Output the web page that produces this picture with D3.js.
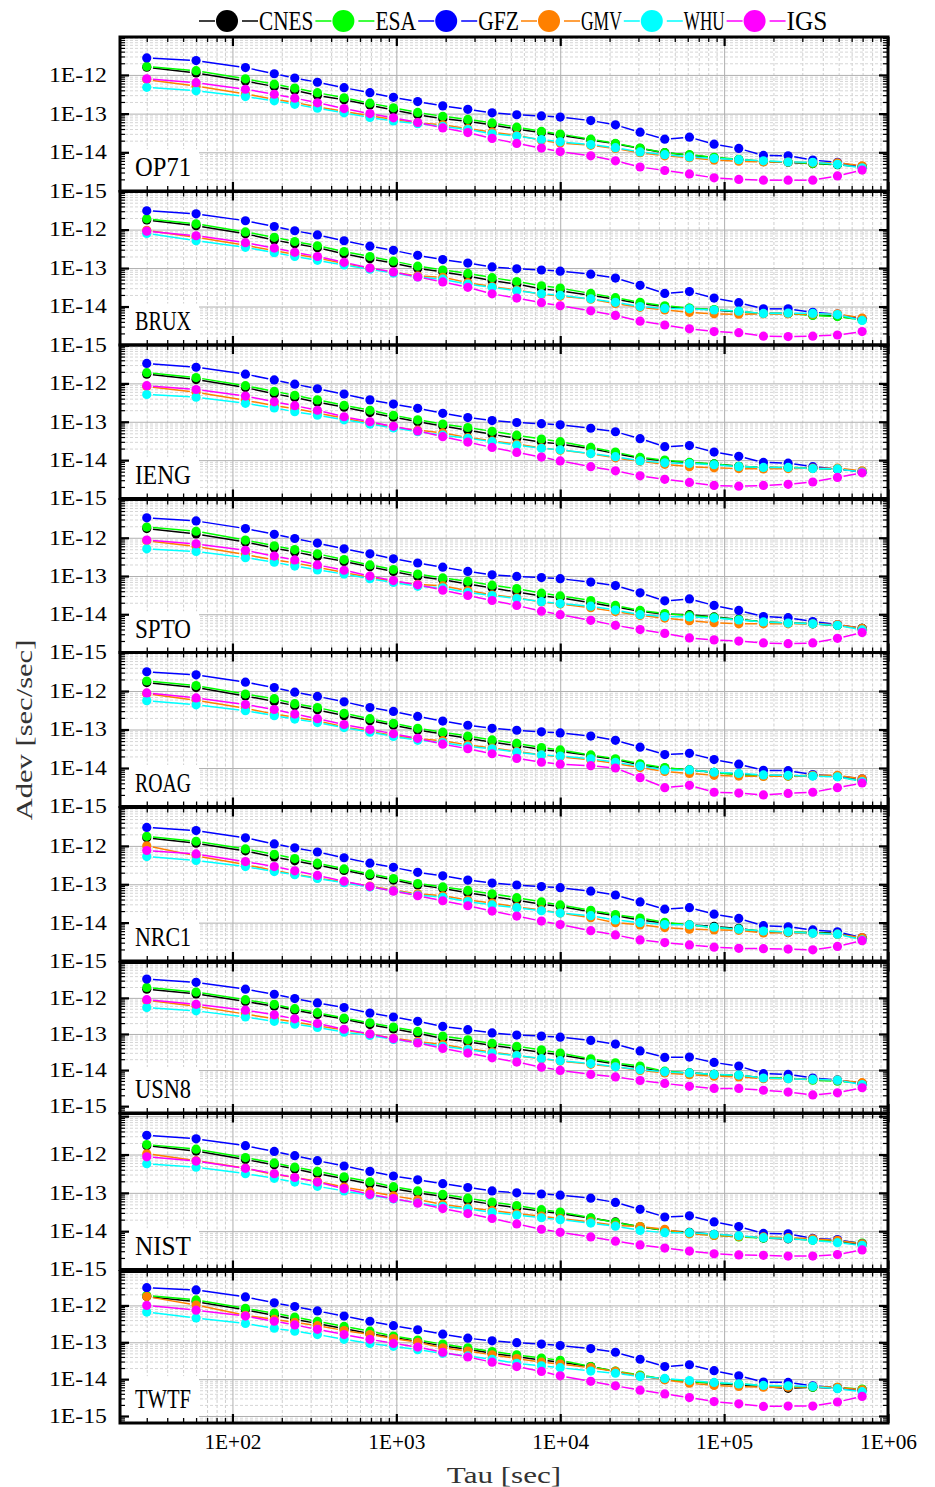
<!DOCTYPE html>
<html><head><meta charset="utf-8">
<script src="https://cdn.jsdelivr.net/npm/d3@7"></script>
<style>html,body{margin:0;padding:0;background:#fff}svg{display:block}</style>
</head><body>
<svg id="chart" width="935" height="1487"></svg>
<script>
// ---------------- data ----------------
const tauSeconds = [30,60,120,180,240,330,480,690,960,1350,1920,2730,3840,5430,7680,10000,15360,21720,30720,43440,61440,86880,122880,173760,245760,347520,491520,695100];
const stations = ["OP71","BRUX","IENG","SPTO","ROAG","NRC1","USN8","NIST","TWTF"];
const seriesNames = ["CNES","ESA","GFZ","GMV","WHU","IGS"];
const seriesColors = ["#000000","#00ff00","#0000ff","#ff8000","#00ffff","#ff00ff"];
const xTickValues = [1e2,1e3,1e4,1e5,1e6];
const yTickValues = [1e-15,1e-14,1e-13,1e-12];

// log10(Adev) per station (rows follow `stations`), one value per tau
const log10AdevCNES = [
[-11.80,-11.95,-12.16,-12.30,-12.40,-12.53,-12.64,-12.78,-12.91,-13.03,-13.13,-13.20,-13.29,-13.40,-13.49,-13.56,-13.68,-13.78,-13.90,-14.01,-14.07,-14.14,-14.19,-14.24,-14.26,-14.29,-14.32,-14.37],
[-11.75,-11.90,-12.11,-12.27,-12.37,-12.47,-12.63,-12.76,-12.87,-13.01,-13.10,-13.21,-13.33,-13.42,-13.54,-13.59,-13.71,-13.81,-13.92,-14.00,-14.05,-14.09,-14.14,-14.18,-14.18,-14.22,-14.25,-14.33],
[-11.76,-11.90,-12.11,-12.27,-12.37,-12.49,-12.62,-12.76,-12.88,-13.00,-13.11,-13.22,-13.33,-13.43,-13.53,-13.58,-13.70,-13.83,-13.95,-14.02,-14.07,-14.10,-14.16,-14.19,-14.20,-14.21,-14.23,-14.30],
[-11.76,-11.90,-12.11,-12.27,-12.37,-12.49,-12.62,-12.76,-12.88,-13.01,-13.10,-13.21,-13.31,-13.42,-13.52,-13.57,-13.70,-13.81,-13.92,-14.00,-14.01,-14.07,-14.13,-14.20,-14.23,-14.25,-14.29,-14.37],
[-11.78,-11.91,-12.13,-12.27,-12.38,-12.49,-12.64,-12.77,-12.89,-13.01,-13.12,-13.23,-13.33,-13.42,-13.52,-13.57,-13.68,-13.78,-13.92,-14.00,-14.05,-14.11,-14.16,-14.19,-14.20,-14.20,-14.22,-14.33],
[-11.79,-11.93,-12.13,-12.29,-12.39,-12.50,-12.64,-12.77,-12.89,-13.02,-13.11,-13.22,-13.32,-13.42,-13.52,-13.58,-13.72,-13.82,-13.93,-14.01,-14.06,-14.10,-14.15,-14.24,-14.26,-14.26,-14.27,-14.41],
[-11.76,-11.89,-12.10,-12.23,-12.34,-12.46,-12.59,-12.74,-12.86,-12.98,-13.13,-13.22,-13.32,-13.41,-13.51,-13.58,-13.72,-13.83,-13.94,-14.05,-14.08,-14.12,-14.15,-14.22,-14.23,-14.26,-14.28,-14.37],
[-11.77,-11.91,-12.13,-12.27,-12.38,-12.50,-12.63,-12.77,-12.89,-13.00,-13.09,-13.20,-13.30,-13.39,-13.48,-13.54,-13.66,-13.76,-13.89,-13.98,-14.03,-14.08,-14.13,-14.18,-14.20,-14.22,-14.26,-14.35],
[-11.76,-11.90,-12.12,-12.27,-12.38,-12.49,-12.63,-12.77,-12.87,-12.98,-13.10,-13.19,-13.30,-13.39,-13.48,-13.54,-13.66,-13.79,-13.91,-14.00,-14.07,-14.11,-14.16,-14.20,-14.25,-14.22,-14.25,-14.29]
];
const log10AdevESA = [
[-11.78,-11.89,-12.10,-12.24,-12.34,-12.46,-12.59,-12.73,-12.85,-12.97,-13.07,-13.15,-13.24,-13.35,-13.46,-13.53,-13.66,-13.77,-13.89,-14.01,-14.06,-14.13,-14.18,-14.23,-14.25,-14.29,-14.31,-14.38],
[-11.72,-11.85,-12.06,-12.20,-12.31,-12.42,-12.57,-12.70,-12.82,-12.95,-13.05,-13.14,-13.25,-13.35,-13.46,-13.52,-13.66,-13.77,-13.89,-13.98,-14.04,-14.08,-14.13,-14.18,-14.18,-14.23,-14.26,-14.35],
[-11.72,-11.85,-12.06,-12.21,-12.31,-12.43,-12.57,-12.70,-12.83,-12.95,-13.06,-13.15,-13.25,-13.35,-13.45,-13.52,-13.67,-13.79,-13.93,-14.00,-14.06,-14.10,-14.16,-14.19,-14.19,-14.21,-14.23,-14.30],
[-11.72,-11.83,-12.06,-12.21,-12.31,-12.42,-12.57,-12.71,-12.83,-12.95,-13.05,-13.14,-13.24,-13.33,-13.45,-13.52,-13.64,-13.77,-13.90,-13.98,-14.03,-14.08,-14.14,-14.20,-14.23,-14.25,-14.29,-14.37],
[-11.74,-11.86,-12.08,-12.20,-12.33,-12.43,-12.58,-12.72,-12.84,-12.97,-13.07,-13.17,-13.27,-13.36,-13.47,-13.53,-13.66,-13.76,-13.89,-13.99,-14.05,-14.11,-14.18,-14.21,-14.21,-14.19,-14.22,-14.33],
[-11.75,-11.88,-12.08,-12.22,-12.33,-12.45,-12.60,-12.73,-12.85,-12.98,-13.07,-13.16,-13.25,-13.35,-13.46,-13.54,-13.68,-13.79,-13.88,-13.99,-14.06,-14.13,-14.17,-14.22,-14.24,-14.26,-14.30,-14.42],
[-11.71,-11.84,-12.05,-12.18,-12.30,-12.41,-12.56,-12.69,-12.81,-12.93,-13.06,-13.16,-13.26,-13.34,-13.44,-13.53,-13.69,-13.80,-13.89,-14.03,-14.08,-14.12,-14.15,-14.22,-14.22,-14.28,-14.31,-14.37],
[-11.74,-11.86,-12.08,-12.22,-12.33,-12.44,-12.58,-12.71,-12.84,-12.95,-13.04,-13.14,-13.24,-13.33,-13.44,-13.50,-13.65,-13.77,-13.88,-13.98,-14.05,-14.11,-14.15,-14.18,-14.18,-14.24,-14.26,-14.31],
[-11.73,-11.85,-12.08,-12.21,-12.32,-12.43,-12.57,-12.70,-12.83,-12.94,-13.05,-13.15,-13.25,-13.34,-13.43,-13.49,-13.66,-13.78,-13.89,-14.00,-14.07,-14.11,-14.13,-14.17,-14.20,-14.22,-14.22,-14.27]
];
const log10AdevGFZ = [
[-11.56,-11.63,-11.81,-11.97,-12.08,-12.19,-12.33,-12.46,-12.58,-12.69,-12.80,-12.89,-12.98,-13.03,-13.06,-13.09,-13.18,-13.29,-13.48,-13.66,-13.61,-13.79,-13.90,-14.08,-14.09,-14.20,-14.26,-14.38],
[-11.51,-11.59,-11.77,-11.92,-12.03,-12.14,-12.29,-12.43,-12.54,-12.67,-12.78,-12.87,-12.97,-13.02,-13.05,-13.08,-13.16,-13.26,-13.45,-13.66,-13.61,-13.78,-13.90,-14.06,-14.06,-14.15,-14.20,-14.32],
[-11.48,-11.58,-11.76,-11.91,-12.02,-12.14,-12.28,-12.43,-12.54,-12.65,-12.78,-12.89,-12.97,-13.02,-13.05,-13.08,-13.17,-13.26,-13.44,-13.65,-13.62,-13.79,-13.90,-14.06,-14.08,-14.17,-14.23,-14.30],
[-11.48,-11.56,-11.76,-11.91,-12.02,-12.14,-12.29,-12.42,-12.55,-12.66,-12.77,-12.88,-12.97,-13.01,-13.04,-13.07,-13.16,-13.25,-13.44,-13.65,-13.60,-13.77,-13.90,-14.06,-14.09,-14.19,-14.27,-14.37],
[-11.50,-11.58,-11.77,-11.91,-12.03,-12.14,-12.28,-12.43,-12.53,-12.66,-12.78,-12.89,-12.97,-13.02,-13.06,-13.09,-13.17,-13.28,-13.46,-13.65,-13.62,-13.78,-13.90,-14.06,-14.07,-14.17,-14.21,-14.28],
[-11.52,-11.60,-11.79,-11.95,-12.05,-12.16,-12.31,-12.45,-12.56,-12.69,-12.78,-12.89,-12.97,-13.02,-13.06,-13.09,-13.18,-13.28,-13.46,-13.65,-13.61,-13.78,-13.89,-14.08,-14.11,-14.19,-14.24,-14.39],
[-11.48,-11.57,-11.76,-11.90,-12.02,-12.14,-12.27,-12.42,-12.53,-12.65,-12.79,-12.88,-12.97,-13.03,-13.06,-13.09,-13.18,-13.28,-13.47,-13.65,-13.64,-13.79,-13.89,-14.10,-14.12,-14.22,-14.28,-14.37],
[-11.50,-11.59,-11.77,-11.92,-12.03,-12.16,-12.30,-12.44,-12.56,-12.66,-12.76,-12.86,-12.95,-13.00,-13.03,-13.06,-13.14,-13.25,-13.43,-13.63,-13.60,-13.76,-13.88,-14.06,-14.07,-14.19,-14.22,-14.33],
[-11.52,-11.58,-11.77,-11.93,-12.03,-12.15,-12.29,-12.43,-12.55,-12.66,-12.78,-12.89,-12.96,-13.01,-13.05,-13.09,-13.17,-13.27,-13.46,-13.66,-13.61,-13.77,-13.91,-14.08,-14.09,-14.18,-14.23,-14.31]
];
const log10AdevGMV = [
[-12.12,-12.29,-12.49,-12.63,-12.71,-12.83,-12.94,-13.06,-13.15,-13.24,-13.29,-13.39,-13.48,-13.56,-13.69,-13.76,-13.82,-13.90,-14.01,-14.09,-14.14,-14.20,-14.23,-14.25,-14.25,-14.27,-14.27,-14.35],
[-12.02,-12.20,-12.41,-12.55,-12.64,-12.74,-12.88,-13.01,-13.11,-13.20,-13.24,-13.38,-13.48,-13.57,-13.68,-13.73,-13.81,-13.92,-14.02,-14.09,-14.15,-14.19,-14.20,-14.19,-14.19,-14.20,-14.19,-14.30],
[-12.08,-12.23,-12.44,-12.58,-12.66,-12.77,-12.91,-13.04,-13.14,-13.22,-13.29,-13.41,-13.50,-13.58,-13.68,-13.74,-13.83,-13.94,-14.03,-14.11,-14.17,-14.20,-14.22,-14.23,-14.22,-14.21,-14.21,-14.28],
[-12.08,-12.23,-12.44,-12.58,-12.66,-12.77,-12.91,-13.04,-13.14,-13.22,-13.26,-13.38,-13.49,-13.57,-13.68,-13.73,-13.83,-13.93,-14.03,-14.10,-14.17,-14.22,-14.25,-14.25,-14.25,-14.25,-14.27,-14.37],
[-12.07,-12.24,-12.45,-12.60,-12.68,-12.78,-12.93,-13.05,-13.16,-13.24,-13.29,-13.40,-13.48,-13.57,-13.66,-13.71,-13.79,-13.88,-13.99,-14.09,-14.14,-14.19,-14.21,-14.22,-14.21,-14.19,-14.19,-14.28],
[-12.00,-12.26,-12.49,-12.64,-12.74,-12.84,-12.94,-13.05,-13.15,-13.25,-13.30,-13.41,-13.49,-13.59,-13.67,-13.75,-13.87,-14.00,-14.06,-14.13,-14.17,-14.19,-14.20,-14.27,-14.26,-14.28,-14.30,-14.39],
[-12.07,-12.23,-12.45,-12.58,-12.67,-12.77,-12.89,-13.01,-13.12,-13.21,-13.29,-13.41,-13.50,-13.60,-13.69,-13.75,-13.84,-13.91,-14.01,-14.08,-14.13,-14.17,-14.19,-14.24,-14.24,-14.26,-14.28,-14.35],
[-11.98,-12.16,-12.36,-12.52,-12.60,-12.70,-12.85,-12.97,-13.08,-13.18,-13.30,-13.39,-13.46,-13.54,-13.61,-13.67,-13.76,-13.85,-13.88,-13.95,-14.07,-14.11,-14.14,-14.15,-14.17,-14.20,-14.24,-14.33],
[-11.76,-11.99,-12.27,-12.38,-12.46,-12.55,-12.68,-12.79,-12.90,-13.00,-13.15,-13.24,-13.34,-13.44,-13.54,-13.59,-13.69,-13.79,-13.91,-14.02,-14.11,-14.17,-14.20,-14.22,-14.22,-14.20,-14.22,-14.29]
];
const log10AdevWHU = [
[-12.32,-12.41,-12.56,-12.67,-12.76,-12.86,-12.98,-13.10,-13.19,-13.26,-13.33,-13.41,-13.52,-13.58,-13.67,-13.73,-13.80,-13.88,-13.99,-14.06,-14.12,-14.16,-14.19,-14.22,-14.25,-14.26,-14.31,-14.40],
[-12.10,-12.29,-12.46,-12.60,-12.70,-12.80,-12.92,-13.03,-13.13,-13.23,-13.29,-13.42,-13.50,-13.59,-13.67,-13.71,-13.80,-13.89,-14.00,-14.05,-14.06,-14.09,-14.12,-14.18,-14.17,-14.18,-14.21,-14.36],
[-12.29,-12.36,-12.52,-12.64,-12.74,-12.83,-12.95,-13.06,-13.16,-13.26,-13.35,-13.43,-13.52,-13.61,-13.69,-13.73,-13.83,-13.91,-14.02,-14.07,-14.09,-14.12,-14.17,-14.19,-14.19,-14.22,-14.23,-14.31],
[-12.29,-12.36,-12.52,-12.64,-12.74,-12.84,-12.95,-13.07,-13.17,-13.27,-13.31,-13.43,-13.51,-13.59,-13.67,-13.72,-13.79,-13.89,-14.01,-14.06,-14.07,-14.10,-14.15,-14.20,-14.23,-14.25,-14.29,-14.41],
[-12.25,-12.36,-12.51,-12.64,-12.73,-12.82,-12.95,-13.07,-13.18,-13.28,-13.34,-13.44,-13.50,-13.59,-13.66,-13.69,-13.76,-13.85,-13.95,-14.05,-14.05,-14.11,-14.14,-14.18,-14.19,-14.21,-14.23,-14.35],
[-12.28,-12.38,-12.54,-12.67,-12.75,-12.85,-12.96,-13.07,-13.17,-13.28,-13.34,-13.45,-13.54,-13.61,-13.69,-13.75,-13.82,-13.93,-14.00,-14.05,-14.06,-14.12,-14.17,-14.22,-14.24,-14.28,-14.30,-14.45],
[-12.27,-12.36,-12.53,-12.65,-12.73,-12.82,-12.95,-13.04,-13.15,-13.24,-13.34,-13.43,-13.53,-13.60,-13.68,-13.74,-13.82,-13.91,-13.99,-14.05,-14.08,-14.12,-14.14,-14.22,-14.24,-14.26,-14.28,-14.40],
[-12.24,-12.33,-12.50,-12.62,-12.72,-12.83,-12.95,-13.06,-13.16,-13.26,-13.35,-13.42,-13.51,-13.58,-13.65,-13.70,-13.79,-13.87,-13.98,-14.04,-14.04,-14.08,-14.12,-14.17,-14.19,-14.24,-14.30,-14.37],
[-12.18,-12.34,-12.49,-12.62,-12.70,-12.79,-12.92,-13.03,-13.11,-13.20,-13.30,-13.37,-13.46,-13.57,-13.64,-13.69,-13.78,-13.84,-13.93,-13.98,-14.04,-14.09,-14.13,-14.17,-14.18,-14.20,-14.26,-14.34]
];
const log10AdevIGS = [
[-12.10,-12.20,-12.37,-12.50,-12.60,-12.72,-12.87,-13.00,-13.11,-13.23,-13.37,-13.49,-13.64,-13.77,-13.89,-13.98,-14.09,-14.22,-14.38,-14.47,-14.56,-14.66,-14.70,-14.72,-14.72,-14.72,-14.61,-14.46],
[-12.04,-12.16,-12.34,-12.48,-12.59,-12.70,-12.85,-13.00,-13.10,-13.23,-13.36,-13.50,-13.67,-13.78,-13.90,-13.98,-14.11,-14.23,-14.38,-14.48,-14.58,-14.65,-14.68,-14.77,-14.78,-14.77,-14.74,-14.65],
[-12.06,-12.16,-12.33,-12.48,-12.58,-12.70,-12.87,-13.00,-13.12,-13.24,-13.39,-13.53,-13.67,-13.80,-13.92,-14.02,-14.17,-14.28,-14.41,-14.50,-14.58,-14.66,-14.68,-14.66,-14.63,-14.57,-14.45,-14.33],
[-12.06,-12.16,-12.33,-12.48,-12.58,-12.71,-12.85,-13.00,-13.12,-13.23,-13.37,-13.51,-13.64,-13.77,-13.92,-14.01,-14.16,-14.29,-14.40,-14.50,-14.62,-14.67,-14.70,-14.75,-14.77,-14.75,-14.63,-14.48],
[-12.05,-12.18,-12.35,-12.48,-12.60,-12.72,-12.87,-13.00,-13.11,-13.23,-13.38,-13.50,-13.63,-13.75,-13.85,-13.90,-13.94,-14.00,-14.25,-14.51,-14.45,-14.63,-14.65,-14.70,-14.66,-14.63,-14.51,-14.39],
[-12.12,-12.21,-12.41,-12.54,-12.65,-12.77,-12.92,-13.06,-13.18,-13.30,-13.43,-13.56,-13.70,-13.83,-13.96,-14.05,-14.21,-14.32,-14.45,-14.52,-14.58,-14.64,-14.67,-14.68,-14.69,-14.71,-14.62,-14.47],
[-12.05,-12.18,-12.34,-12.47,-12.58,-12.71,-12.87,-13.00,-13.13,-13.25,-13.40,-13.53,-13.66,-13.78,-13.92,-14.01,-14.12,-14.19,-14.29,-14.37,-14.45,-14.51,-14.51,-14.56,-14.61,-14.69,-14.63,-14.49],
[-12.06,-12.17,-12.36,-12.50,-12.60,-12.72,-12.89,-13.04,-13.15,-13.27,-13.41,-13.54,-13.67,-13.81,-13.95,-14.03,-14.15,-14.26,-14.36,-14.44,-14.52,-14.59,-14.62,-14.63,-14.65,-14.65,-14.61,-14.49],
[-12.00,-12.13,-12.29,-12.43,-12.53,-12.65,-12.79,-12.92,-13.03,-13.13,-13.27,-13.40,-13.54,-13.66,-13.79,-13.91,-14.06,-14.18,-14.30,-14.40,-14.50,-14.61,-14.67,-14.74,-14.73,-14.73,-14.62,-14.47]
];
const seriesValues = [log10AdevCNES, log10AdevESA, log10AdevGFZ, log10AdevGMV, log10AdevWHU, log10AdevIGS];

// ---------------- layout ----------------
const FONT = "'Liberation Serif','DejaVu Serif',serif";
const plotLeft = 120, plotRight = 888;
const panels = [
  {top:37,    bottom:191,    lo:-15,    hi:-11.02},
  {top:191.5, bottom:345,    lo:-15,    hi:-11.01},
  {top:345,   bottom:498.5,  lo:-15,    hi:-11.0},
  {top:499.5, bottom:652.5,  lo:-15,    hi:-11.0},
  {top:652.5, bottom:806.5,  lo:-15,    hi:-11.0},
  {top:807.5, bottom:961,    lo:-15,    hi:-11.0},
  {top:962.5, bottom:1113,   lo:-15.19, hi:-11.02},
  {top:1113.5,bottom:1269.5, lo:-15,    hi:-10.93},
  {top:1271.5,bottom:1423,   lo:-15.19, hi:-11.08}
];

const svg = d3.select("#chart");
const x = d3.scaleLog().domain([20.6, 1e6]).range([plotLeft, plotRight]);

const fmtE = v => { const e = Math.round(Math.log10(v)); return "1E" + (e < 0 ? "-" : "+") + String(Math.abs(e)).padStart(2,"0"); };
function fitText(sel, charW){ sel.each(function(){ const n=this.textContent.length; d3.select(this).attr("textLength", n*charW).attr("lengthAdjust","spacingAndGlyphs"); }); }

const xMinor = [];
for (let k=1;k<=5;k++) for (let d=2;d<=9;d++){ const v=d*Math.pow(10,k); if (v>=20.6 && v<=1e6) xMinor.push(v); }

function trimmedSegments(pts, gap){
  const out=[];
  for (let i=0;i<pts.length-1;i++){
    const [x1,y1]=pts[i], [x2,y2]=pts[i+1];
    const dx=x2-x1, dy=y2-y1, L=Math.hypot(dx,dy);
    if (L<=2*gap+0.5) continue;
    const ux=dx/L, uy=dy/L;
    out.push([x1+ux*gap, y1+uy*gap, x2-ux*gap, y2-uy*gap]);
  }
  return out;
}

const defs = svg.append("defs");
const W = plotRight - plotLeft;

panels.forEach((p, pi) => {
  const y = d3.scaleLog().domain([Math.pow(10,p.lo), Math.pow(10,p.hi)]).range([p.bottom, p.top]);
  const H = p.bottom - p.top;
  const yMajor = [1e-16,1e-15,1e-14,1e-13,1e-12,1e-11].filter(v => Math.log10(v) >= p.lo-1e-9 && Math.log10(v) <= p.hi+1e-9);
  const yMinor = [];
  for (let k=-16;k<=-11;k++) for (let d=2;d<=9;d++){ const v=d*Math.pow(10,k); const lv=Math.log10(v); if (lv>p.lo && lv<p.hi) yMinor.push(v); }

  const clipId = "clip"+pi;
  defs.append("clipPath").attr("id", clipId).append("rect").attr("x", plotLeft).attr("y", p.top).attr("width", W).attr("height", H);

  const g = svg.append("g");
  const grid = g.append("g").attr("clip-path", `url(#${clipId})`);

  grid.append("g").attr("transform", `translate(0,${p.bottom})`)
    .call(d3.axisBottom(x).tickValues(xMinor).tickSize(-H).tickFormat(""))
    .call(s => s.select(".domain").remove())
    .selectAll("line").attr("stroke","#cfcfcf").attr("stroke-width",1).attr("stroke-dasharray","3,2");
  grid.append("g").attr("transform", `translate(${plotLeft},0)`)
    .call(d3.axisLeft(y).tickValues(yMinor).tickSize(-W).tickFormat(""))
    .call(s => s.select(".domain").remove())
    .selectAll("line").attr("stroke","#d6d6d6").attr("stroke-width",1).attr("stroke-dasharray","3,2");
  grid.append("g").attr("transform", `translate(0,${p.bottom})`)
    .call(d3.axisBottom(x).tickValues(xTickValues).tickSize(-H).tickFormat(""))
    .call(s => s.select(".domain").remove())
    .selectAll("line").attr("stroke","#b0b0b0").attr("stroke-width",1);
  grid.append("g").attr("transform", `translate(${plotLeft},0)`)
    .call(d3.axisLeft(y).tickValues(yMajor).tickSize(-W).tickFormat(""))
    .call(s => s.select(".domain").remove())
    .selectAll("line").attr("stroke","#b0b0b0").attr("stroke-width",1);

  const boxTop = y(1e-14) - 3;
  g.append("rect").attr("x", plotLeft+1.5).attr("y", boxTop).attr("width", 199-plotLeft-1.5).attr("height", p.bottom - boxTop - 1.5).attr("fill","#fff");
  g.append("text").attr("x", 135).attr("y", p.bottom - 15).attr("font-family", FONT).attr("font-size", 27)
    .attr("fill","#000").text(stations[pi]).call(fitText, 14);

  const series = g.append("g").attr("clip-path", `url(#${clipId})`);
  seriesValues.forEach((vals, si) => {
    const row = vals[pi];
    const pts = row.map((lv, i) => [x(tauSeconds[i]), y(Math.pow(10, lv))]);
    const sg = series.append("g");
    sg.selectAll("line").data(trimmedSegments(pts, 6.2)).join("line")
      .attr("x1", d=>d[0]).attr("y1", d=>d[1]).attr("x2", d=>d[2]).attr("y2", d=>d[3])
      .attr("stroke", seriesColors[si]).attr("stroke-width", 1.5);
    sg.selectAll("circle").data(pts).join("circle")
      .attr("cx", d=>d[0]).attr("cy", d=>d[1]).attr("r", 4.6).attr("fill", seriesColors[si]);
  });

  const tickStyle = (s, w) => { s.select(".domain").remove(); s.selectAll("line").attr("stroke","#000").attr("stroke-width", w); };
  g.append("g").attr("transform", `translate(0,${p.top})`).call(d3.axisBottom(x).tickValues(xMinor).tickSize(5).tickFormat("")).call(tickStyle, 1.3);
  g.append("g").attr("transform", `translate(0,${p.top})`).call(d3.axisBottom(x).tickValues(xTickValues).tickSize(9).tickFormat("")).call(tickStyle, 2.2);
  g.append("g").attr("transform", `translate(0,${p.bottom})`).call(d3.axisTop(x).tickValues(xMinor).tickSize(5).tickFormat("")).call(tickStyle, 1.3);
  g.append("g").attr("transform", `translate(0,${p.bottom})`).call(d3.axisTop(x).tickValues(xTickValues).tickSize(9).tickFormat("")).call(tickStyle, 2.2);
  g.append("g").attr("transform", `translate(${plotLeft},0)`).call(d3.axisRight(y).tickValues(yMinor).tickSize(5).tickFormat("")).call(tickStyle, 1.2);
  g.append("g").attr("transform", `translate(${plotLeft},0)`).call(d3.axisRight(y).tickValues(yMajor).tickSize(9).tickFormat("")).call(tickStyle, 2.2);
  g.append("g").attr("transform", `translate(${plotRight},0)`).call(d3.axisLeft(y).tickValues(yMinor).tickSize(5).tickFormat("")).call(tickStyle, 1.2);
  g.append("g").attr("transform", `translate(${plotRight},0)`).call(d3.axisLeft(y).tickValues(yMajor).tickSize(9).tickFormat("")).call(tickStyle, 2.2);

  const yl = g.append("g").attr("transform", `translate(${plotLeft},0)`)
    .call(d3.axisLeft(y).tickValues(yTickValues).tickSize(0).tickPadding(13).tickFormat(fmtE));
  yl.select(".domain").remove();
  yl.selectAll("text").attr("font-family", FONT).attr("font-size", 20).attr("fill","#000").call(fitText, 11.6);

  g.append("rect").attr("x", plotLeft).attr("y", p.top).attr("width", W).attr("height", H)
    .attr("fill","none").attr("stroke","#000").attr("stroke-width", 3);

  if (pi === panels.length-1){
    const xl = g.append("g").attr("transform", `translate(0,${p.bottom})`)
      .call(d3.axisBottom(x).tickValues(xTickValues).tickSize(0).tickPadding(11).tickFormat(fmtE));
    xl.select(".domain").remove();
    xl.selectAll("text").attr("font-family", FONT).attr("font-size", 21).attr("fill","#000").call(fitText, 11.4);
  }
});

svg.append("text").attr("x", 504).attr("y", 1483).attr("text-anchor","middle")
  .attr("font-family", FONT).attr("font-size", 23).attr("fill","#333").text("Tau [sec]").call(fitText, 12.7);
svg.append("text").attr("transform","translate(32,730) rotate(-90)").attr("text-anchor","middle")
  .attr("font-family", FONT).attr("font-size", 23).attr("fill","#333").text("Adev [sec/sec]").call(fitText, 12.9);

const legend = svg.append("g");
let lx = 199;
const ly = 21;
seriesNames.forEach((name, si) => {
  const c = seriesColors[si];
  legend.append("line").attr("x1", lx).attr("x2", lx+16).attr("y1", ly).attr("y2", ly).attr("stroke", c).attr("stroke-width", 1.5);
  legend.append("circle").attr("cx", lx+28).attr("cy", ly).attr("r", 11).attr("fill", c);
  legend.append("line").attr("x1", lx+43).attr("x2", lx+59).attr("y1", ly).attr("y2", ly).attr("stroke", c).attr("stroke-width", 1.5);
  const tw = name.length*13.6;
  legend.append("text").attr("x", lx+60).attr("y", ly+9).attr("font-family", FONT).attr("font-size", 27).attr("fill","#000").text(name).call(fitText, 13.6);
  lx += 60 + tw + 2;
});
</script>
</body></html>
